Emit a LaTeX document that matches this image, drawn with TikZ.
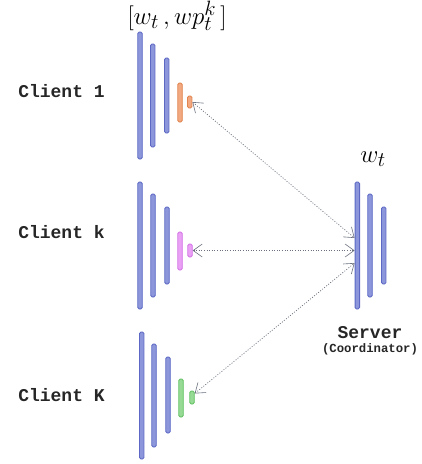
\documentclass[tikz,border=0pt]{standalone}
\usepackage{fontspec}
\setmonofont{Liberation Mono}
\usetikzlibrary{arrows.meta,calc}
\definecolor{bluefill}{HTML}{8C96DA}
\definecolor{blueline}{HTML}{5C68C4}
\definecolor{orfill}{HTML}{F2A880}
\definecolor{orline}{HTML}{E2844E}
\definecolor{pkfill}{HTML}{EAA0F4}
\definecolor{pkline}{HTML}{D274E6}
\definecolor{grfill}{HTML}{96DA96}
\definecolor{grline}{HTML}{62C062}
\definecolor{conncol}{HTML}{6A707E}
\tikzset{
  bar/.style 2 args={draw=#1, fill=#2, rectangle, rounded corners=1.5pt, minimum width=4.5pt, inner sep=0pt, line width=0.9pt},
  bbar/.style={bar={blueline}{bluefill}},
  obar/.style={bar={orline}{orfill}},
  pbar/.style={bar={pkline}{pkfill}},
  gbar/.style={bar={grline}{grfill}},
  conn/.style={conncol, dash pattern=on 1pt off 1.6pt, line width=0.7pt,
    {Straight Barb[length=9pt,width=13pt,line width=0.6pt]}-{Straight Barb[length=9pt,width=13pt,line width=0.6pt]}},
  clabel/.style={font=\ttfamily\bfseries\fontsize{18}{20}\selectfont, text=black!85},
  mlabel/.style={font=\fontsize{28}{32}\selectfont}
}
\begin{document}
\begin{tikzpicture}[x=1pt,y=-1pt]
\useasboundingbox (0,0) rectangle (422,464);
% Client 1
\node[bbar, minimum height=127pt] (c1a) at (140,95.5) {};
\node[bbar, minimum height=103pt] (c1b) at (152.7,95.5) {};
\node[bbar, minimum height=75pt] (c1c) at (166.7,95.5) {};
\node[obar, minimum height=39pt] (c1d) at (180,102.5) {};
\node[obar, minimum height=12pt] (c1s) at (189.7,102) {};
% Client k
\node[bbar, minimum height=127pt] (c2a) at (140,245.5) {};
\node[bbar, minimum height=103pt] (c2b) at (153,245.5) {};
\node[bbar, minimum height=77pt] (c2c) at (167,245.5) {};
\node[pbar, minimum height=38pt] (c2d) at (180,251) {};
\node[pbar, minimum height=13pt] (c2s) at (190,250.5) {};
% Client K
\node[bbar, minimum height=127pt] (c3a) at (141.7,395.5) {};
\node[bbar, minimum height=103pt] (c3b) at (154,395.5) {};
\node[bbar, minimum height=76pt] (c3c) at (168,395) {};
\node[gbar, minimum height=38pt] (c3d) at (181,398) {};
\node[gbar, minimum height=13pt] (c3s) at (192,397.5) {};
% Server
\node[bbar, minimum height=127pt] (s1) at (357.3,245.5) {};
\node[bbar, minimum height=103pt] (s2) at (370,245.5) {};
\node[bbar, minimum height=77pt] (s3) at (383.7,245.5) {};
% Labels
\node[clabel] (l1) at (61.5,91) {Client 1};
\node[clabel] (l2) at (61.5,232) {Client k};
\node[clabel] (l3) at (61.5,395) {Client K};
\node[clabel] (ls) at (370,333) {Server};
\node[font=\ttfamily\bfseries\fontsize{12.3}{14}\selectfont, text=black!85] (lc) at (370,349) {(Coordinator)};
\node[mlabel] (top) at (177,16) {$[w_t\,, wp_t^k\,]$};
\node[mlabel] (wt) at (373,159) {$w_t$};
% connectors
\coordinate (e1) at ($(s1.west)+(0,-7.5)$);
\coordinate (e2) at ($(s1.west)+(0,5)$);
\coordinate (e3) at ($(s1.west)+(0,17.5)$);
\draw[conn] (c1s.east) -- (e1);
\draw[conn] (c2s.east) -- (e2);
\draw[conn] ($(c3s.east)+(0,-4)$) -- (e3);
\end{tikzpicture}
\end{document}
